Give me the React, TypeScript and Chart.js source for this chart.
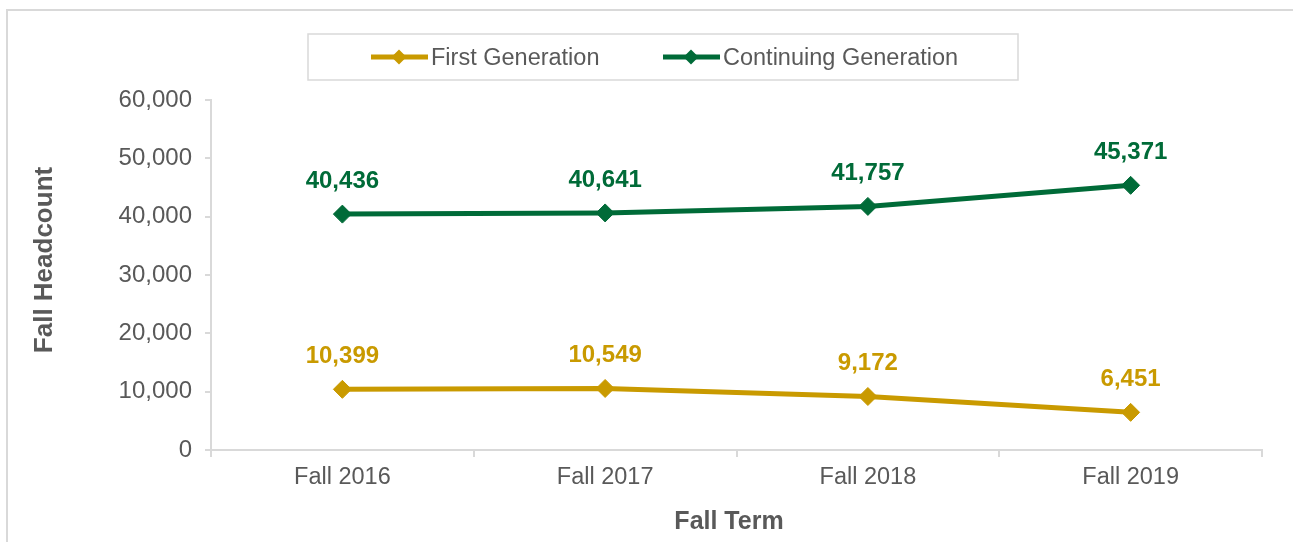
import React, { useEffect, useRef } from "react";
import { Chart, registerables } from "chart.js";

Chart.register(...registerables);

const categories = ["Fall 2016", "Fall 2017", "Fall 2018", "Fall 2019"];
const firstGen = [10399, 10549, 9172, 6451];
const continuingGen = [40436, 40641, 41757, 45371];
const seriesNames = ["First Generation", "Continuing Generation"];
const yTicks = [0, 10000, 20000, 30000, 40000, 50000, 60000];

const GOLD = "#C99A00";
const GREEN = "#006B38";
const GRAY_TEXT = "#595959";
const AXIS = "#D9D9D9";
const FONT = "'Liberation Sans', Arial, sans-serif";

const fmt = (v: number) => v.toLocaleString("en-US");

const overlayPlugin = {
  id: "overlay",
  afterDatasetsDraw(chart: any) {
    const ctx = chart.ctx;
    ctx.save();
    chart.data.datasets.forEach((ds: any, di: number) => {
      const meta = chart.getDatasetMeta(di);
      ctx.font = `bold 24px ${FONT}`;
      ctx.fillStyle = ds.borderColor;
      ctx.textAlign = "center";
      ctx.textBaseline = "middle";
      meta.data.forEach((pt: any, i: number) => {
        ctx.fillText(fmt(ds.data[i]), pt.x, pt.y - 33);
      });
    });
    ctx.restore();
  },
  afterDraw(chart: any) {
    const ctx = chart.ctx;
    ctx.save();
    // axis titles
    ctx.fillStyle = GRAY_TEXT;
    ctx.font = `bold 25px ${FONT}`;
    ctx.textAlign = "center";
    ctx.textBaseline = "middle";
    ctx.fillText("Fall Term", 729, 522);
    ctx.save();
    ctx.font = `bold 26px ${FONT}`;
    ctx.translate(45, 260);
    ctx.rotate(-Math.PI / 2);
    ctx.fillText("Fall Headcount", 0, 0);
    ctx.restore();

    // legend box
    ctx.strokeStyle = AXIS;
    ctx.lineWidth = 1.5;
    ctx.strokeRect(308, 34, 710, 46);
    const items = [
      { x: 371, color: GOLD, label: seriesNames[0] },
      { x: 663, color: GREEN, label: seriesNames[1] },
    ];
    const ly = 57;
    items.forEach((it) => {
      ctx.strokeStyle = it.color;
      ctx.lineWidth = 5;
      ctx.beginPath();
      ctx.moveTo(it.x, ly);
      ctx.lineTo(it.x + 57, ly);
      ctx.stroke();
      const cx = it.x + 28;
      const r = 7.5;
      ctx.fillStyle = it.color;
      ctx.beginPath();
      ctx.moveTo(cx - r, ly);
      ctx.lineTo(cx, ly - r);
      ctx.lineTo(cx + r, ly);
      ctx.lineTo(cx, ly + r);
      ctx.closePath();
      ctx.fill();
      ctx.fillStyle = GRAY_TEXT;
      ctx.font = `23.5px ${FONT}`;
      ctx.textAlign = "left";
      ctx.textBaseline = "middle";
      ctx.fillText(it.label, it.x + 60, ly + 1.5);
    });
    ctx.restore();
  },
};

export default function App() {
  const canvasRef = useRef<HTMLCanvasElement | null>(null);

  useEffect(() => {
    document.body.style.margin = "0";
    document.body.style.overflow = "hidden";
    const canvas = canvasRef.current;
    if (!canvas) return;
    const chart = new Chart(canvas, {
      type: "line",
      data: {
        labels: categories,
        datasets: [
          {
            label: seriesNames[0],
            data: firstGen,
            borderColor: GOLD,
            backgroundColor: GOLD,
            borderWidth: 5,
            pointStyle: "rectRot",
            pointRadius: 9,
            pointHoverRadius: 9,
            pointBorderWidth: 1,
            tension: 0,
          },
          {
            label: seriesNames[1],
            data: continuingGen,
            borderColor: GREEN,
            backgroundColor: GREEN,
            borderWidth: 5,
            pointStyle: "rectRot",
            pointRadius: 9,
            pointHoverRadius: 9,
            pointBorderWidth: 1,
            tension: 0,
          },
        ],
      },
      options: {
        animation: false,
        responsive: false,
        maintainAspectRatio: false,
        layout: { padding: { left: 0, right: 31, top: 100, bottom: 0 } },
        plugins: {
          legend: { display: false },
          title: { display: false },
          tooltip: { enabled: false },
        },
        scales: {
          x: {
            type: "category",
            offset: true,
            grid: {
              offset: true,
              drawOnChartArea: false,
              drawTicks: true,
              tickLength: 7,
              color: AXIS,
              lineWidth: 2,
            },
            border: { display: true, color: AXIS, width: 2 },
            ticks: {
              color: GRAY_TEXT,
              font: { family: FONT, size: 23.5 },
              padding: 6,
              maxRotation: 0,
            },
            afterFit: (s: any) => {
              s.height = 92;
            },
          },
          y: {
            min: 0,
            max: 60000,
            afterBuildTicks: (s: any) => {
              s.ticks = yTicks.map((v) => ({ value: v }));
            },
            grid: {
              drawOnChartArea: false,
              drawTicks: true,
              tickLength: 6,
              color: AXIS,
              lineWidth: 2,
            },
            border: { display: true, color: AXIS, width: 2 },
            ticks: {
              color: GRAY_TEXT,
              font: { family: FONT, size: 24 },
              padding: 13,
              callback: (v: any) => fmt(Number(v)),
            },
            afterFit: (s: any) => {
              s.width = 211;
            },
          },
        },
      },
      plugins: [overlayPlugin],
    });
    return () => chart.destroy();
  }, []);

  return (
    <div
      style={{
        position: "fixed",
        left: 0,
        top: 0,
        width: 1293,
        height: 542,
        overflow: "hidden",
        background: "#fff",
      }}
    >
      <div
        style={{
          position: "absolute",
          left: 6,
          top: 9,
          width: 1320,
          height: 620,
          border: `2px solid ${AXIS}`,
          boxSizing: "border-box",
        }}
      />
      <canvas
        ref={canvasRef}
        width={1293}
        height={542}
        style={{ position: "absolute", left: 0, top: 0, width: 1293, height: 542 }}
      />
    </div>
  );
}
